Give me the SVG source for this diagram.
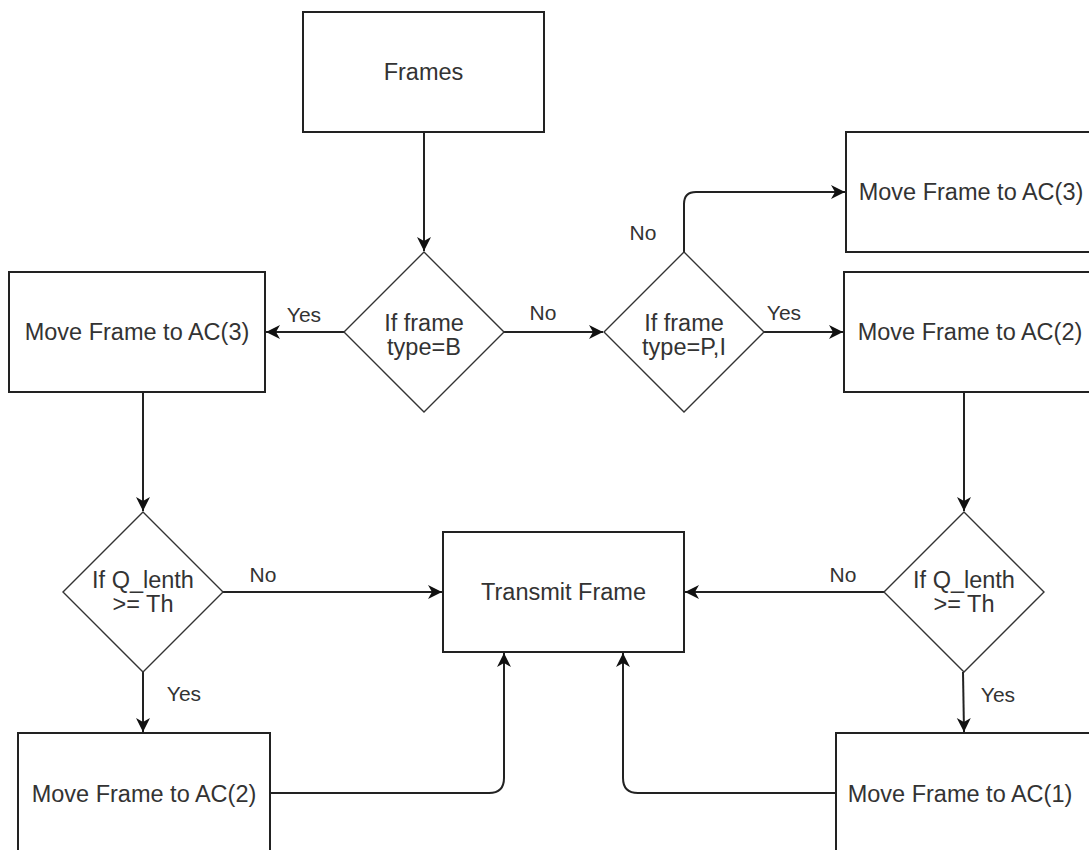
<svg xmlns="http://www.w3.org/2000/svg" width="1089" height="850" viewBox="0 0 1089 850">
<style>
.box{fill:#fff;stroke:#222;stroke-width:2}
.dia{fill:#fff;stroke:#333;stroke-width:1.4}
.t{font-family:"Liberation Sans",Arial,sans-serif;font-size:23.5px;fill:#333;text-anchor:middle}
.lb{font-family:"Liberation Sans",Arial,sans-serif;font-size:21px;fill:#333;text-anchor:middle}
.c{fill:none;stroke:#222;stroke-width:2}
</style>
<defs>
<marker id="ah" markerUnits="userSpaceOnUse" markerWidth="18" markerHeight="18" viewBox="-16 -9 18 18" refX="0" refY="0" orient="auto">
<path d="M0,0 L-14,-7 L-10,0 L-14,7 Z" fill="#111"/>
</marker>
</defs>
<rect width="1089" height="850" fill="#fff"/>
<g id="connectors">
<path class="c" d="M424,132 V251" marker-end="url(#ah)"/>
<path class="c" d="M344,332 H266" marker-end="url(#ah)"/>
<path class="c" d="M504,332 H603" marker-end="url(#ah)"/>
<path class="c" d="M764,332 H843" marker-end="url(#ah)"/>
<path class="c" d="M684,252 V204 Q684,192 696,192 H845" marker-end="url(#ah)"/>
<path class="c" d="M143,392 V511" marker-end="url(#ah)"/>
<path class="c" d="M964,392 V511" marker-end="url(#ah)"/>
<path class="c" d="M223,592 H442" marker-end="url(#ah)"/>
<path class="c" d="M884,592 H685" marker-end="url(#ah)"/>
<path class="c" d="M143,672 V732" marker-end="url(#ah)"/>
<path class="c" d="M963,672 L964,732" marker-end="url(#ah)"/>
<path class="c" d="M270,793 H489 Q504,793 504,778 V653" marker-end="url(#ah)"/>
<path class="c" d="M836,793 H638 Q623,793 623,778 V653" marker-end="url(#ah)"/>
<text class="lb" x="304" y="322">Yes</text>
<text class="lb" x="543" y="320">No</text>
<text class="lb" x="784" y="320">Yes</text>
<text class="lb" x="643" y="240">No</text>
<text class="lb" x="263" y="582">No</text>
<text class="lb" x="843" y="582">No</text>
<text class="lb" x="184" y="701">Yes</text>
<text class="lb" x="998" y="702">Yes</text>
</g>
<g id="frames">
<rect class="box" x="303" y="12" width="241" height="120"/>
<text class="t" x="423.5" y="80">Frames</text>
</g>
<g id="dec-b">
<polygon class="dia" points="424,252 504,332 424,412 344,332"/>
<text class="t" x="424" y="331">If frame</text>
<text class="t" x="424" y="355">type=B</text>
</g>
<g id="ac3-left">
<rect class="box" x="9" y="272" width="256" height="120"/>
<text class="t" x="137" y="340">Move Frame to AC(3)</text>
</g>
<g id="dec-pi">
<polygon class="dia" points="684,252 764,332 684,412 604,332"/>
<text class="t" x="684" y="331">If frame</text>
<text class="t" x="684" y="355">type=P,I</text>
</g>
<g id="ac3-right">
<rect class="box" x="846" y="132" width="254" height="120"/>
<text class="t" x="971" y="200">Move Frame to AC(3)</text>
</g>
<g id="ac2-right">
<rect class="box" x="844" y="272" width="256" height="120"/>
<text class="t" x="970" y="340">Move Frame to AC(2)</text>
</g>
<g id="dec-q-left">
<polygon class="dia" points="143,512 223,592 143,672 63,592"/>
<text class="t" x="143" y="588">If Q_lenth</text>
<text class="t" x="143" y="612">&gt;= Th</text>
</g>
<g id="dec-q-right">
<polygon class="dia" points="964,512 1044,592 964,672 884,592"/>
<text class="t" x="964" y="588">If Q_lenth</text>
<text class="t" x="964" y="612">&gt;= Th</text>
</g>
<g id="transmit">
<rect class="box" x="443" y="532" width="241" height="120"/>
<text class="t" x="563.5" y="600">Transmit Frame</text>
</g>
<g id="ac2-left">
<rect class="box" x="18" y="733" width="252" height="130"/>
<text class="t" x="144" y="802">Move Frame to AC(2)</text>
</g>
<g id="ac1">
<rect class="box" x="836" y="733" width="256" height="130"/>
<text class="t" x="960" y="802">Move Frame to AC(1)</text>
</g>
</svg>
